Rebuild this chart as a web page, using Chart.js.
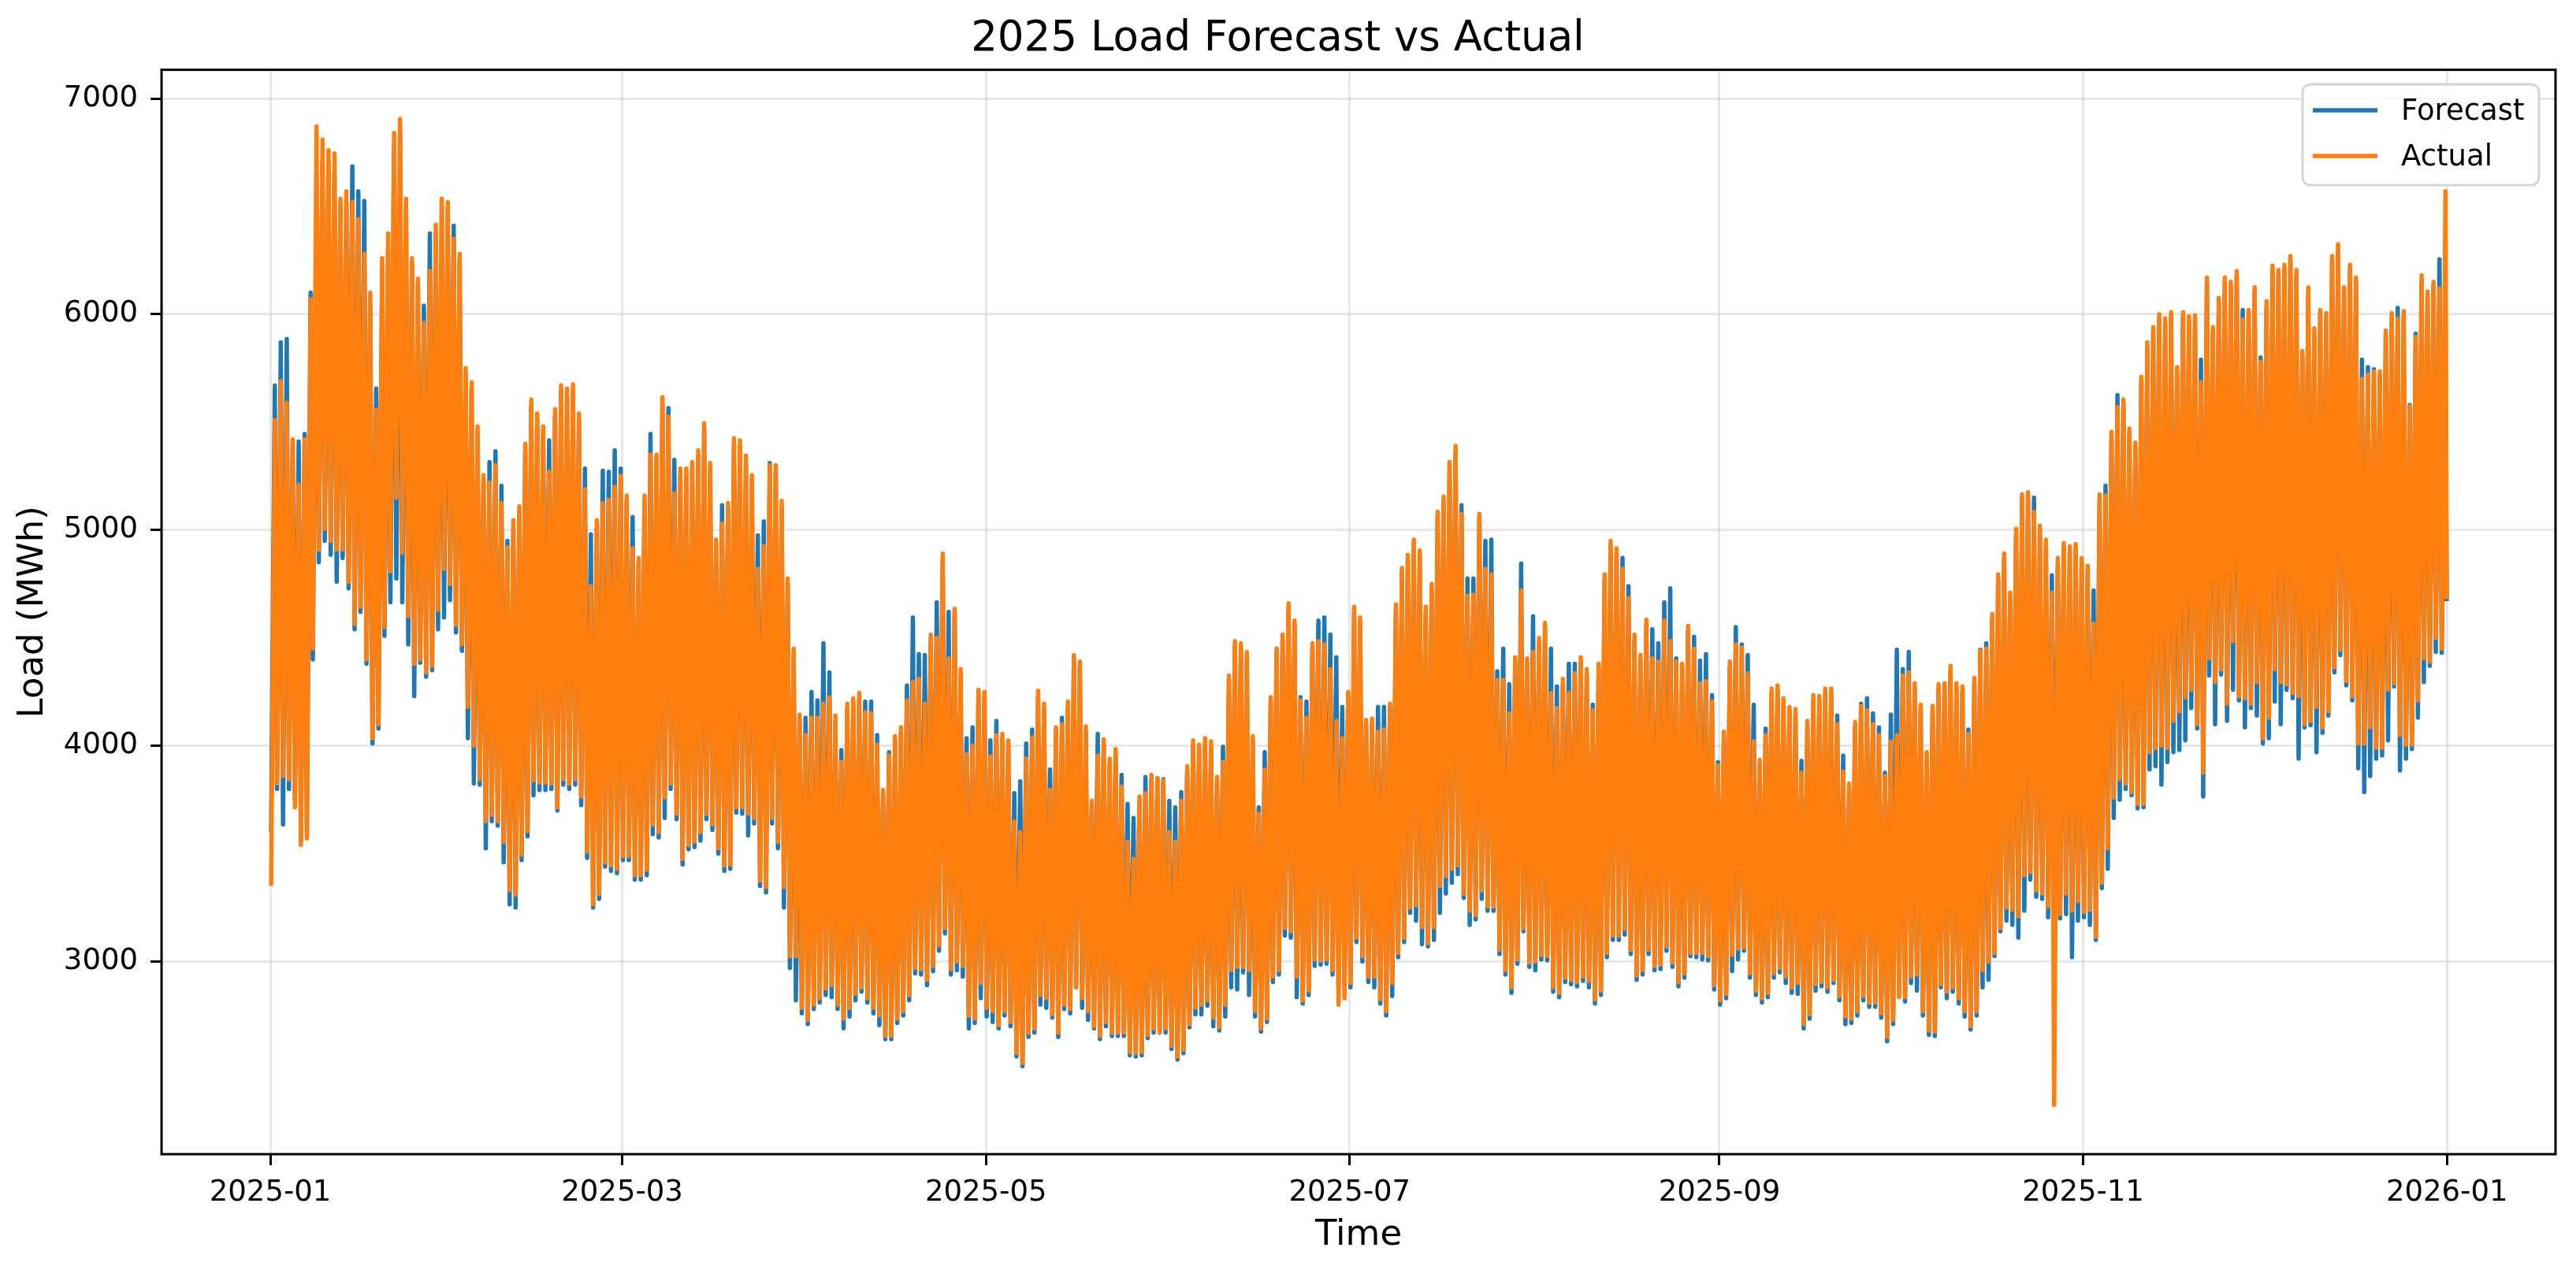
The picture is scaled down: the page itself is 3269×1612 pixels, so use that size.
<!DOCTYPE html>
<html>
<head>
<meta charset="utf-8">
<title>2025 Load Forecast vs Actual</title>
<script src="https://cdn.jsdelivr.net/npm/chart.js"></script>
<style>
  html, body { margin: 0; padding: 0; background: #ffffff; }
  #load { display: block; }
</style>
</head>
<body>
<canvas id="load" width="3269" height="1612"></canvas>
<script>
// data: one morning low and one evening peak per day of 2025 (MWh)

const dayLabels = ["2025-01", "2025-03", "2025-05", "2025-07", "2025-09", "2025-11", "2026-01"];
const dayTicks = [0, 59, 120, 181, 243, 304, 365];   // day of year where each label sits
const loadTicks = [3000, 4000, 5000, 6000, 7000];

const actualPeak = [
  // jan
  5510, 5690, 5590, 5420, 5210, 5420, 6070, 6870, 6810, 6760, 6745, 6535, 6570, 6520, 6440, 6280, 6100, 5560, 6260, 6375, 6840, 6905, 6535, 6260, 6165, 5960, 6200, 6415, 6535, 6520, 6350,
  // feb
  6280, 5750, 5685, 5480, 5255, 5220, 5300, 5125, 4920, 5045, 5110, 5400, 5605, 5540, 5480, 5270, 5560, 5670, 5655, 5675, 5540, 5190, 4740, 5045, 5125, 5140, 5200, 5250,
  // mar
  5160, 4915, 4870, 5160, 5350, 5350, 5615, 5525, 5170, 5285, 5285, 5315, 5370, 5495, 5310, 4955, 5030, 5125, 5425, 5415, 5345, 5255, 4820, 4925, 5300, 5300, 5135, 4775, 4450, 4145, 4050,
  // apr
  4130, 4130, 4195, 4225, 4140, 3925, 4195, 4220, 4245, 4155, 4150, 4005, 3795, 3955, 4045, 4085, 4210, 4295, 4310, 4195, 4515, 4500, 4890, 4405, 4635, 4355, 3960, 4000, 4260, 4250,
  // may
  3950, 4050, 4055, 4025, 3650, 3600, 3940, 4040, 4255, 4195, 3795, 4085, 4100, 4205, 4420, 4390, 4090, 3745, 3955, 4030, 3940, 3985, 3810, 3555, 3475, 3765, 3780, 3865, 3850, 3840, 3600,
  // jun
  3555, 3745, 3905, 4025, 4005, 4035, 4020, 3855, 3925, 4325, 4485, 4475, 4435, 4045, 3685, 3890, 4225, 4450, 4515, 4660, 4580, 4210, 4130, 4475, 4485, 4470, 4355, 4115, 4035, 4250,
  // jul
  4645, 4595, 4120, 4125, 4065, 4075, 4195, 4655, 4825, 4885, 4955, 4905, 4645, 4750, 5085, 5155, 5315, 5390, 5075, 4695, 4700, 5075, 4820, 4795, 4305, 4305, 4150, 4410, 4720, 4405, 4435,
  // aug
  4500, 4570, 4245, 4175, 4310, 4245, 4335, 4410, 4355, 4165, 4380, 4795, 4950, 4915, 4820, 4685, 4515, 4420, 4585, 4405, 4390, 4580, 4485, 4390, 4380, 4555, 4450, 4290, 4300, 4205, 3910,
  // sep
  4065, 4390, 4470, 4455, 4335, 4020, 3935, 4050, 4265, 4280, 4220, 4180, 4170, 3875, 4115, 4235, 4230, 4265, 4265, 4100, 3880, 3825, 4110, 4185, 4165, 4100, 4050, 3860, 4020, 4050,
  // oct
  4325, 4340, 4290, 4190, 3970, 4185, 4285, 4290, 4370, 4290, 4275, 4055, 4315, 4440, 4450, 4610, 4795, 4890, 4710, 5005, 5165, 5175, 5085, 5020, 4955, 4710, 4870, 4940, 4925, 4935, 4870,
  // nov
  4835, 4565, 5165, 5160, 5455, 5570, 5605, 5470, 5405, 5710, 5870, 5940, 6000, 5980, 6010, 5755, 6010, 5990, 5995, 5685, 6170, 5940, 6075, 6170, 6150, 6200, 5975, 6020, 6125, 5780,
  // dec
  6060, 6225, 6205, 6230, 6270, 6205, 5830, 6125, 5935, 6020, 6005, 6270, 6325, 6125, 6230, 6170, 5700, 5720, 5735, 5735, 5925, 6005, 5980, 6015, 5575, 5895, 6180, 6105, 6150, 6120, 6570
];

const actualLow = [
  3350, 3825, 3860, 3845, 3715, 3540, 3570, 4450, 4910, 5005, 4950, 4910, 4910, 4760, 4565, 4645, 4400, 4035, 4100, 4550, 4810, 5150, 4895, 4600, 4380, 4400, 4340, 4370, 4630, 4820, 4750,
  4560, 4470, 4180, 4000, 3845, 3650, 3680, 3650, 3555, 3330, 3310, 3495, 3605, 3840, 3830, 3830, 3825, 3715, 3845, 3825, 3845, 3765, 3510, 3265, 3315, 3460, 3445, 3430,
  3490, 3490, 3400, 3400, 3425, 3635, 3600, 3760, 3825, 3685, 3475, 3540, 3555, 3600, 3685, 3635, 3525, 3445, 3450, 3715, 3715, 3685, 3665, 3375, 3345, 3665, 3555, 3345, 3025, 3025, 2785,
  2730, 2800, 2830, 2875, 2890, 2800, 2735, 2785, 2850, 2880, 2830, 2785, 2750, 2655, 2655, 2735, 2770, 2845, 2970, 2965, 2915, 2980, 3075, 3155, 2965, 3000, 2980, 2750, 2735, 2900,
  2785, 2770, 2705, 2770, 2720, 2575, 2530, 2670, 2690, 2845, 2830, 2755, 2670, 2800, 2780, 2880, 2830, 2770, 2700, 2655, 2720, 2670, 2670, 2670, 2580, 2575, 2580, 2660, 2690, 2670, 2690,
  2610, 2560, 2590, 2710, 2785, 2800, 2820, 2740, 2695, 2800, 2960, 2975, 2975, 2960, 2770, 2690, 2735, 2930, 2960, 3155, 3140, 2930, 2820, 2865, 3010, 3005, 3010, 2960, 2800, 2830,
  2900, 3110, 3025, 2930, 2930, 2825, 2770, 2900, 3040, 3110, 3250, 3260, 3160, 3085, 3160, 3350, 3395, 3430, 3445, 3315, 3235, 3215, 3330, 3255, 3255, 3055, 2960, 2880, 3010, 3155, 2995,
  3000, 3030, 3025, 2880, 2855, 2925, 2915, 2905, 2930, 2910, 2825, 2865, 3040, 3120, 3120, 3150, 3055, 2935, 2960, 3055, 2980, 2985, 3070, 2995, 2905, 2945, 3040, 3040, 3040, 3025, 2890,
  2820, 2850, 3030, 3060, 3065, 2945, 2865, 2830, 2855, 2945, 2970, 2930, 2880, 2900, 2710, 2755, 2895, 2905, 2880, 2915, 2840, 2745, 2735, 2770, 2840, 2810, 2810, 2760, 2650, 2730,
  2835, 2835, 2930, 2940, 2770, 2680, 2675, 2895, 2860, 2880, 2830, 2770, 2700, 2770, 2960, 3000, 3040, 3155, 3250, 3240, 3210, 3400, 3415, 3330, 3315, 3255, 2335, 3220, 3315, 3235, 3280,
  3230, 3240, 3115, 3365, 3525, 3760, 3845, 3825, 3785, 3730, 3730, 3970, 3990, 4000, 3990, 4115, 4160, 4225, 4260, 4100, 3875, 4405, 4295, 4355, 4195, 4485, 4230, 4220, 4195, 4295,
  4035, 4130, 4355, 4295, 4285, 4245, 4230, 4100, 4115, 4180, 4085, 4160, 4365, 4445, 4300, 4230, 4010, 4010, 4085, 3990, 3990, 4260, 4290, 4050, 4005, 4005, 4210, 4405, 4390, 4500, 4450
];

const forecastPeak = [
  5670, 5870, 5885, 5400, 5410, 5445, 6100, 6650, 6700, 6700, 6650, 6500, 6500, 6685, 6570, 6525, 6050, 5655, 6200, 6300, 6780, 6850, 6500, 6230, 6140, 6040, 6375, 6375, 6500, 6490, 6410,
  6250, 5720, 5650, 5450, 5230, 5315, 5365, 5205, 4950, 5010, 5080, 5370, 5570, 5510, 5450, 5415, 5530, 5640, 5620, 5640, 5510, 5285, 4980, 5010, 5275, 5270, 5370, 5285,
  5130, 5060, 4840, 5130, 5445, 5320, 5580, 5565, 5325, 5250, 5255, 5285, 5340, 5460, 5280, 4930, 5115, 5100, 5395, 5385, 5315, 5230, 4975, 5040, 5310, 5270, 5105, 4750, 4420, 4120, 4130,
  4250, 4210, 4475, 4340, 4110, 3980, 4170, 4195, 4215, 4205, 4205, 4050, 3770, 3970, 4020, 4060, 4280, 4595, 4425, 4420, 4490, 4665, 4860, 4620, 4610, 4330, 4035, 4085, 4235, 4225,
  4025, 4115, 4030, 4000, 3780, 3835, 4010, 4075, 4230, 4170, 3890, 4060, 4130, 4180, 4395, 4365, 4065, 3720, 4055, 4005, 3915, 3960, 3865, 3730, 3665, 3740, 3855, 3840, 3850, 3845, 3745,
  3715, 3785, 3880, 4000, 3980, 4010, 3995, 3830, 3995, 4300, 4460, 4450, 4410, 4020, 3715, 3970, 4200, 4425, 4490, 4635, 4555, 4225, 4205, 4450, 4580, 4595, 4515, 4410, 4180, 4225,
  4620, 4570, 4095, 4100, 4180, 4180, 4170, 4630, 4800, 4860, 4930, 4880, 4620, 4725, 5060, 5130, 5290, 5365, 5115, 4775, 4775, 5050, 4950, 4955, 4345, 4450, 4285, 4385, 4845, 4380, 4600,
  4475, 4545, 4450, 4275, 4285, 4380, 4380, 4385, 4330, 4190, 4355, 4770, 4925, 4890, 4870, 4740, 4490, 4395, 4560, 4540, 4475, 4665, 4730, 4405, 4355, 4530, 4505, 4395, 4425, 4235, 3925,
  4040, 4365, 4550, 4470, 4420, 4190, 3910, 4080, 4240, 4255, 4195, 4155, 4145, 3930, 4090, 4210, 4205, 4240, 4240, 4140, 3955, 3800, 4085, 4195, 4220, 4150, 4085, 3875, 4145, 4445,
  4355, 4435, 4265, 4165, 3945, 4160, 4260, 4265, 4345, 4265, 4250, 4075, 4290, 4445, 4475, 4585, 4770, 4865, 4685, 4980, 5140, 5150, 5150, 4995, 4930, 4790, 4845, 4915, 4900, 4910, 4845,
  4810, 4720, 5140, 5205, 5430, 5625, 5580, 5445, 5380, 5685, 5845, 5915, 5975, 5955, 5985, 5730, 5985, 5965, 5970, 5790, 6145, 5915, 6050, 6145, 6125, 6175, 6020, 5995, 6100, 5800,
  6035, 6200, 6180, 6205, 6245, 6180, 5805, 6100, 5910, 5995, 5980, 6245, 6300, 6100, 6205, 6145, 5790, 5755, 5745, 5710, 5900, 5980, 6030, 5990, 5580, 5910, 6155, 6080, 6125, 6255, 5800
];

const forecastLow = [
  3600, 3800, 3635, 3800, 3750, 3560, 3600, 4400, 4850, 4950, 4885, 4760, 4870, 4730, 4540, 4620, 4380, 4010, 4080, 4510, 4665, 4775, 4665, 4470, 4230, 4385, 4320, 4350, 4540, 4595, 4675,
  4525, 4440, 4035, 3825, 3820, 3525, 3650, 3630, 3460, 3265, 3250, 3470, 3580, 3770, 3795, 3795, 3800, 3700, 3820, 3800, 3820, 3725, 3480, 3250, 3290, 3440, 3420, 3410,
  3470, 3470, 3380, 3380, 3400, 3590, 3575, 3665, 3800, 3660, 3450, 3520, 3530, 3560, 3660, 3610, 3500, 3420, 3430, 3690, 3685, 3585, 3640, 3350, 3320, 3640, 3525, 3250, 2970, 2820, 2760,
  2710, 2780, 2810, 2845, 2835, 2780, 2690, 2745, 2820, 2860, 2810, 2760, 2705, 2640, 2640, 2715, 2750, 2820, 2945, 2940, 2890, 2955, 3050, 3130, 2940, 2960, 2930, 2690, 2715, 2830,
  2745, 2720, 2690, 2750, 2700, 2560, 2515, 2650, 2670, 2800, 2785, 2740, 2650, 2780, 2760, 2880, 2785, 2730, 2690, 2640, 2700, 2655, 2655, 2655, 2565, 2560, 2565, 2645, 2670, 2670, 2670,
  2595, 2545, 2575, 2695, 2755, 2755, 2795, 2700, 2680, 2745, 2880, 2870, 2950, 2845, 2745, 2675, 2720, 2905, 2940, 3120, 3110, 2835, 2805, 2845, 2980, 2985, 2990, 2940, 2880, 2895,
  2880, 3090, 3000, 2905, 2880, 2805, 2750, 2840, 3020, 3090, 3225, 3190, 3080, 3070, 3100, 3225, 3315, 3365, 3405, 3295, 3170, 3195, 3290, 3235, 3235, 3035, 2940, 2855, 2990, 3140, 2975,
  2960, 3010, 3005, 2860, 2835, 2905, 2895, 2885, 2910, 2880, 2805, 2845, 3020, 3100, 3100, 3125, 3035, 2915, 2940, 3035, 2960, 2965, 3050, 2975, 2885, 2925, 3025, 3020, 3010, 3005, 2870,
  2800, 2830, 2955, 3010, 3050, 2925, 2845, 2810, 2835, 2925, 2950, 2900, 2855, 2850, 2690, 2735, 2865, 2885, 2860, 2900, 2820, 2710, 2715, 2750, 2820, 2790, 2790, 2740, 2630, 2710,
  2850, 2815, 2900, 2865, 2750, 2660, 2655, 2880, 2830, 2860, 2805, 2745, 2685, 2750, 2880, 2915, 3025, 3140, 3190, 3170, 3110, 3235, 3380, 3300, 3290, 3205, 3200, 3200, 3220, 3020, 3190,
  3205, 3170, 3100, 3340, 3430, 3665, 3750, 3800, 3770, 3710, 3715, 3890, 3905, 3820, 3925, 3970, 3980, 4025, 4175, 4080, 3765, 4325, 4100, 4330, 4115, 4260, 4210, 4085, 4175, 4140,
  4010, 4035, 4205, 4100, 4260, 4220, 3940, 4085, 4095, 3970, 4060, 4140, 4340, 4420, 4280, 4210, 3895, 3785, 3860, 3940, 3955, 4025, 4275, 3885, 3940, 3985, 4130, 4295, 4370, 4435, 4430
];

// value at the very last hour of the year
const actualLast = 4680;
const forecastLast = 4670;

// hours of the day where the low and the peak are placed
const lowHour = 3;
const peakHour = 18;


// turn the daily lows / peaks into x (days) / y points
function buildSeries(lows, peaks, last) {
  let pts = [];
  let n = Math.min(lows.length, peaks.length);
  for (let d = 0; d < n; d++) {
    pts.push({x: d + lowHour / 24, y: lows[d]});
    pts.push({x: d + peakHour / 24, y: peaks[d]});
  }
  pts.push({x: 8759 / 24, y: last});
  return pts;
}

const forecastPts = buildSeries(forecastLow, forecastPeak, forecastLast);
const actualPts = buildSeries(actualLow, actualPeak, actualLast);

// matplotlib like margins (5% each side)
const xMin = -0.05 * (8759 / 24);
const xMax = 1.05 * (8759 / 24);
const yMin = 2107;
const yMax = 7133;

const FONT = "'DejaVu Sans', 'Liberation Sans', sans-serif";
Chart.defaults.font.family = FONT;
Chart.defaults.color = "#000000";

const blue = "#1f77b4";
const orange = "#ff7f0e";

// frame round the plot + legend box, drawn by hand
const framePlugin = {
  id: "frame",
  afterDatasetsDraw(chart) {
    const c = chart.ctx;
    const a = chart.chartArea;
    c.save();
    c.strokeStyle = "#000000";
    c.lineWidth = 3;
    c.strokeRect(a.left, a.top, a.right - a.left, a.bottom - a.top);

    // legend
    let lx = 2922, ly = 107, lw = 300, lh = 128, r = 10;
    c.beginPath();
    c.moveTo(lx + r, ly);
    c.arcTo(lx + lw, ly, lx + lw, ly + lh, r);
    c.arcTo(lx + lw, ly + lh, lx, ly + lh, r);
    c.arcTo(lx, ly + lh, lx, ly, r);
    c.arcTo(lx, ly, lx + lw, ly, r);
    c.closePath();
    c.fillStyle = "rgba(255,255,255,0.8)";
    c.fill();
    c.strokeStyle = "#d6d6d6";
    c.lineWidth = 3;
    c.stroke();

    const items = [[blue, chart.data.datasets[0].label, 140], [orange, chart.data.datasets[1].label, 198]];
    c.font = "37px " + FONT;
    c.textBaseline = "middle";
    c.textAlign = "left";
    items.forEach(function (it) {
      c.strokeStyle = it[0];
      c.lineWidth = 5.5;
      c.beginPath();
      c.moveTo(2935, it[2]);
      c.lineTo(3017, it[2]);
      c.stroke();
      c.fillStyle = "#000000";
      c.fillText(it[1], 3047, it[2] + 2);
    });
    c.restore();
  }
};

const ctx = document.getElementById("load").getContext("2d");

const loadChart = new Chart(ctx, {
  type: "line",
  data: {
    datasets: [
      {
        label: "Forecast",
        data: forecastPts,
        borderColor: blue,
        borderWidth: 5.5,
        pointRadius: 0,
        tension: 0,
        borderJoinStyle: "round",
        fill: false,
        order: 1
      },
      {
        label: "Actual",
        data: actualPts,
        borderColor: orange,
        borderWidth: 5.5,
        pointRadius: 0,
        tension: 0,
        borderJoinStyle: "round",
        fill: false,
        order: 0
      }
    ]
  },
  options: {
    responsive: false,
    animation: false,
    devicePixelRatio: 1,
    parsing: false,
    normalized: true,
    layout: { padding: { top: 0, right: 26, bottom: 0, left: 0 } },
    plugins: {
      legend: { display: false },
      tooltip: { enabled: false },
      title: {
        display: true,
        text: "2025 Load Forecast vs Actual",
        font: { size: 53, weight: "normal" },
        color: "#000000",
        padding: { top: 18, bottom: 7 }
      }
    },
    scales: {
      x: {
        type: "linear",
        min: xMin,
        max: xMax,
        afterFit: function (scale) { scale.height = 147; },
        afterBuildTicks: function (scale) {
          scale.ticks = dayTicks.map(function (v) { return {value: v}; });
        },
        ticks: {
          font: { size: 37 },
          color: "#000000",
          padding: 13,
          maxRotation: 0,
          autoSkip: false,
          callback: function (value) {
            let i = dayTicks.indexOf(value);
            return i >= 0 ? dayLabels[i] : "";
          }
        },
        grid: {
          color: "rgba(176,176,176,0.3)",
          lineWidth: 3,
          tickColor: "#000000",
          tickLength: 14,
          tickWidth: 3
        },
        border: { display: false },
        title: {
          display: true,
          text: "Time",
          font: { size: 45 },
          color: "#000000",
          padding: { top: 0, bottom: 17 }
        }
      },
      y: {
        type: "linear",
        min: yMin,
        max: yMax,
        afterFit: function (scale) { scale.width = 205; },
        afterBuildTicks: function (scale) {
          scale.ticks = loadTicks.map(function (v) { return {value: v}; });
        },
        ticks: {
          font: { size: 37 },
          color: "#000000",
          padding: 16,
          callback: function (value) { return String(value); }
        },
        grid: {
          color: "rgba(176,176,176,0.3)",
          lineWidth: 3,
          tickColor: "#000000",
          tickLength: 14,
          tickWidth: 3
        },
        border: { display: false },
        title: {
          display: true,
          text: "Load (MWh)",
          font: { size: 45 },
          color: "#000000",
          padding: { top: 15, bottom: 0 }
        }
      }
    }
  },
  plugins: [framePlugin]
});
</script>
</body>
</html>
